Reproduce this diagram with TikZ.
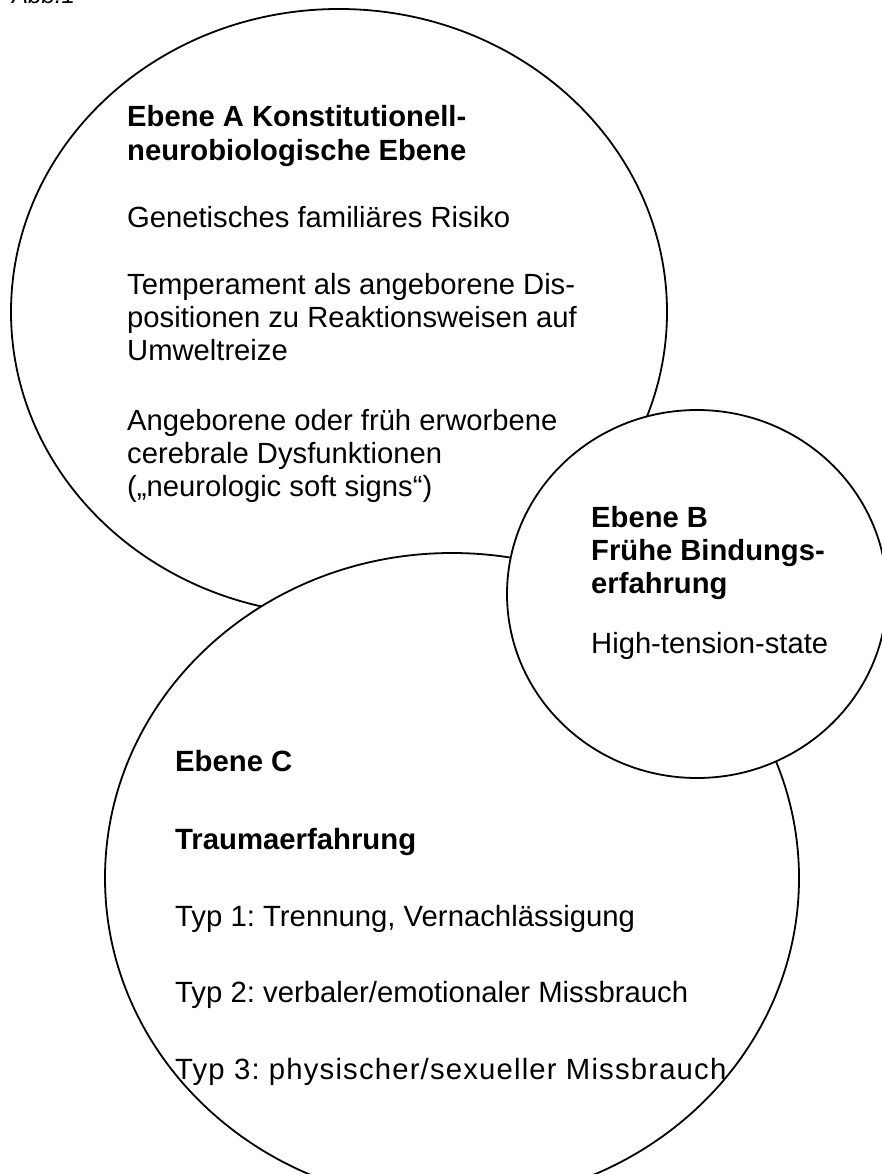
\documentclass[tikz,border=0pt]{standalone}
\usepackage{fontspec}
\setmainfont{Liberation Sans}
\newfontfamily\fontAB{Liberation Sans}
\newfontfamily\fontC{Liberation Sans}
\newfontfamily\fontCsp[LetterSpace=4.0]{Liberation Sans}
\usetikzlibrary{shapes.geometric}
\frenchspacing
\begin{document}
\begin{tikzpicture}[x=1pt,y=-1pt,
  ring/.style={draw=black, fill=white, line width=1.8pt, ellipse, inner sep=0pt},
  txt/.style={anchor=base west, inner sep=0pt, font=\fontAB\fontsize{29.2}{33}\selectfont\frenchspacing},
  btxt/.style={anchor=base west, inner sep=0pt, font=\fontAB\fontsize{29.2}{33}\selectfont\bfseries\frenchspacing},
  ctxt/.style={anchor=base west, inner sep=0pt, font=\fontC\fontsize{29.3}{34}\selectfont\frenchspacing},
  cbtxt/.style={anchor=base west, inner sep=0pt, font=\fontC\fontsize{29.3}{34}\selectfont\bfseries\frenchspacing}]
\useasboundingbox (0,0) rectangle (882,1174);
\clip (0,0) rectangle (882,1174);
\fill[white] (0,0) rectangle (882,1174);
\node[anchor=base west, inner sep=0pt, font=\fontAB\itshape\fontsize{24}{28}\selectfont] (abb) at (12,4) {Abb.1};
% circles: A below, C middle, B on top
\node[ring, minimum width=656pt, minimum height=606pt] (A) at (339,312) {};
\node[ring, minimum width=694pt, minimum height=650pt] (C) at (452,878) {};
\node[ring, minimum width=380pt, minimum height=368pt] (B) at (697,594) {};
% Ebene A
\node[btxt] (a1) at (127,127) {Ebene A Konstitutionell-};
\node[btxt] (a2) at (127,160.4) {neurobiologische Ebene};
\node[txt] (a3) at (127,227.2) {Genetisches familiäres Risiko};
\node[txt] (a4) at (127,294) {Temperament als angeborene Dis-};
\node[txt] (a5) at (127,327.4) {positionen zu Reaktionsweisen auf};
\node[txt] (a6) at (127,360.8) {Umweltreize};
\node[txt] (a7) at (127,430) {Angeborene oder früh erworbene};
\node[txt] (a8) at (127,463.4) {cerebrale Dysfunktionen};
\node[txt] (a9) at (127,496.8) {(„neurologic soft signs“)};
% Ebene B
\node[btxt] (b1) at (591,527) {Ebene B};
\node[btxt] (b2) at (591,560) {Frühe Bindungs-};
\node[btxt] (b3) at (591,593) {erfahrung};
\node[txt] (b4) at (591,653) {High-tension-state};
% Ebene C
\node[cbtxt] (c1) at (175,771) {Ebene C};
\node[cbtxt] (c2) at (175,849) {Traumaerfahrung};
\node[ctxt] (c3) at (175,926) {Typ 1: Trennung, Vernachlässigung};
\node[ctxt] (c4) at (175,1002) {Typ 2: verbaler/emotionaler Missbrauch};
\node[ctxt, font=\fontCsp\fontsize{29.3}{34}\selectfont\frenchspacing] (c5) at (175,1079) {Typ 3: physischer/sexueller Missbrauch};
\end{tikzpicture}
\end{document}
